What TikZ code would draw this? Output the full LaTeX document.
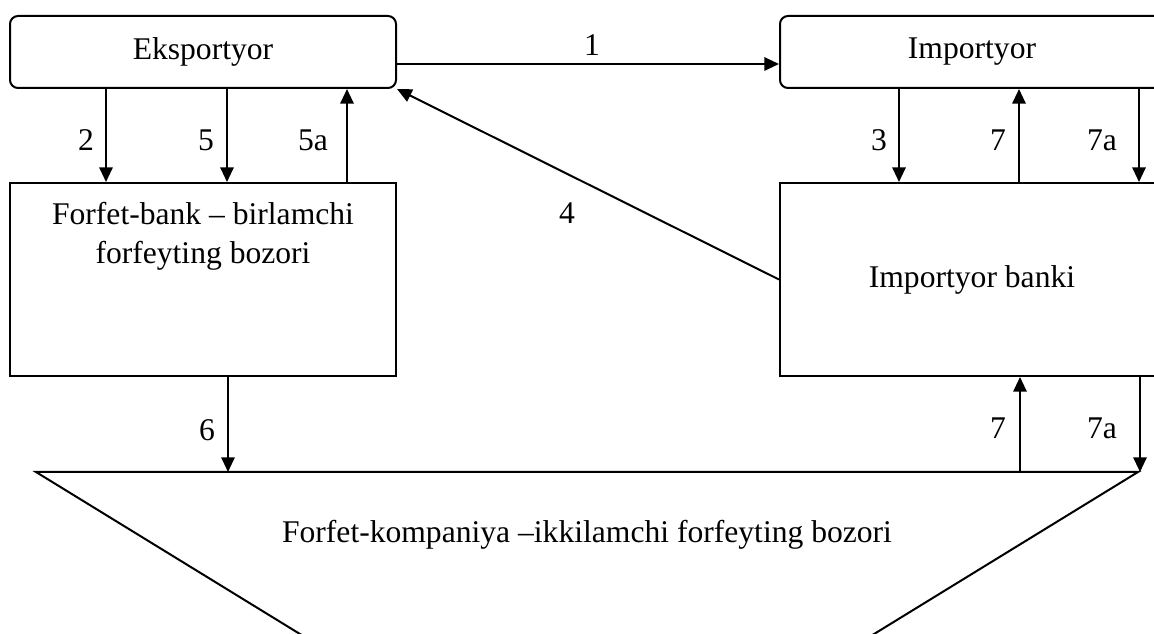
\documentclass[tikz,border=0pt]{standalone}
\usepackage{fontspec}
\setmainfont{Liberation Serif}
\usetikzlibrary{arrows.meta}

\tikzset{
  blok/.style={draw, line width=1.5pt, minimum width=289.5pt, inner sep=0pt},
  rblok/.style={blok, rounded corners=6pt, minimum height=54pt},
  strelka/.style={line width=1.5pt, -{Triangle[length=11pt,width=10pt]}},
  raqam/.style={inner sep=0pt},
}

\begin{document}
\begin{tikzpicture}[x=0.75pt,y=0.75pt,yscale=-1,xscale=1,
    every node/.style={font=\fontsize{23.7}{29.3}\selectfont}]
	\clip (0,0) rectangle (1154,634);

	% Participants
	\node[rblok] (eks) at (203,52) {Eksportyor};
	\node[rblok, minimum width=288pt] (imp) at (972,52) {Importyor};
	\node[blok, minimum height=144.75pt,
	  label={[anchor=north, align=center, inner sep=0pt, yshift=-15pt]north:Forfet-bank – birlamchi\\forfeyting bozori}] (fbank) at (203,279.5) {};
	\node[blok, minimum width=288pt, minimum height=144.75pt] (ibank) at (972,279.5) {Importyor banki};

	% Secondary market (trapezium)
	\coordinate (m1) at (36,472);
	\coordinate (m2) at (1138,472);
	\coordinate (m6) at (228,472);
	\coordinate (m7) at (1020,472);
	\coordinate (m7a) at (1140,472);
	\draw[line width=1.5pt] (326,650) -- (m1) -- (m2) -- (848,650);
	\node (mkt) at (587,535) {Forfet-kompaniya –ikkilamchi forfeyting bozori};

	% Arrows
	\draw[strelka] ([yshift=9pt]eks.east) -- ([yshift=9pt]imp.west);
	\draw[strelka] ([xshift=72.75pt]eks.south west) -- ([xshift=72.75pt]fbank.north west);
	\draw[strelka] ([xshift=163.5pt]eks.south west) -- ([xshift=163.5pt]fbank.north west);
	\draw[strelka] ([xshift=253.5pt]fbank.north west) -- ([xshift=253.5pt]eks.south west);
	\draw[strelka] ([xshift=90pt]imp.south west) -- ([xshift=90pt]ibank.north west);
	\draw[strelka] ([xshift=180pt]ibank.north west) -- ([xshift=180pt]imp.south west);
	\draw[strelka] ([xshift=270pt]imp.south west) -- ([xshift=270pt]ibank.north west);
	\draw[strelka] (ibank.west) -- (eks.south east);
	\draw[strelka] (m6 |- fbank.south) -- (m6);
	\draw[strelka] (m7) -- (m7 |- ibank.south);
	\draw[strelka] (m7a |- ibank.south) -- (m7a);

	% Step numbers
	\node[raqam] (n1) at (592,45) {1};
	\node[raqam] (n2) at (86,140) {2};
	\node[raqam] (n5) at (206,140) {5};
	\node[raqam] (n5a) at (313,140) {5a};
	\node[raqam] (n3) at (879,140) {3};
	\node[raqam] (n7) at (998,140) {7};
	\node[raqam] (n7a) at (1102,140) {7a};
	\node[raqam] (n4) at (567,213) {4};
	\node[raqam] (n6) at (207,430) {6};
	\node[raqam] (n7b) at (998,428) {7};
	\node[raqam] (n7ab) at (1102,428) {7a};

\end{tikzpicture}
\end{document}
